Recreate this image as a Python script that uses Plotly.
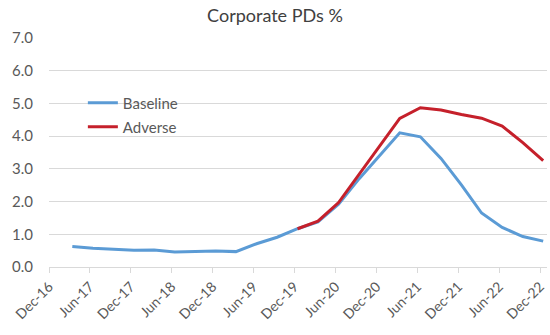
import plotly.graph_objects as go

# Quarterly observation dates (mid-month of each quarter end)
quarters = [
    "2017-03-15", "2017-06-15", "2017-09-15", "2017-12-15",
    "2018-03-15", "2018-06-15", "2018-09-15", "2018-12-15",
    "2019-03-15", "2019-06-15", "2019-09-15", "2019-12-15",
    "2020-03-15", "2020-06-15", "2020-09-15", "2020-12-15",
    "2021-03-15", "2021-06-15", "2021-09-15", "2021-12-15",
    "2022-03-15", "2022-06-15", "2022-09-15", "2022-12-15",
]

# Corporate probability of default, %
baseline = [
    0.63, 0.57, 0.54, 0.51, 0.52, 0.46, 0.47, 0.49,
    0.47, 0.71, 0.91, 1.17, 1.38, 1.92, 2.70, 3.42,
    4.10, 3.98, 3.32, 2.51, 1.65, 1.21, 0.93, 0.79,
]
adverse = [
    None, None, None, None, None, None, None, None,
    None, None, None, 1.17, 1.40, 1.97, 2.84, 3.72,
    4.54, 4.87, 4.80, 4.66, 4.55, 4.31, 3.80, 3.25,
]

title_text = "Corporate PDs %"
font_family = "Lato, 'Open Sans', sans-serif"
grey = "#595959"
grid = "#d9d9d9"

fig = go.Figure()
fig.add_trace(go.Scatter(
    x=quarters, y=baseline, name="Baseline", mode="lines",
    line=dict(color="#5B9BD5", width=3), legend="legend",
))
fig.add_trace(go.Scatter(
    x=quarters, y=adverse, name="Adverse", mode="lines",
    line=dict(color="#C5202B", width=3), legend="legend2",
))

legend_style = dict(
    bgcolor="rgba(0,0,0,0)", borderwidth=0,
    font=dict(family=font_family, size=15, color=grey),
    xanchor="left", yanchor="middle",
)

fig.update_layout(
    width=550, height=335,
    margin=dict(l=49, r=3, t=38, b=68),
    paper_bgcolor="white", plot_bgcolor="white",
    font=dict(family=font_family, color=grey),
    title=dict(
        text=title_text, x=0.5, xref="container", xanchor="center",
        y=1 - 16 / 335, yref="container", yanchor="middle",
        font=dict(family=font_family, size=18, color="#404040"),
    ),
    showlegend=True,
    legend=dict(x=0.068, y=0.716, **legend_style),
    legend2=dict(x=0.068, y=0.611, **legend_style),
    xaxis=dict(
        type="date",
        range=["2016-12-01", "2023-01-01"],
        tick0="2016-12-01", dtick="M6", tickformat="%b-%y",
        tickangle=-45,
        ticks="outside", ticklen=5, tickcolor=grid,
        showline=True, linecolor=grid, linewidth=1,
        showgrid=False, zeroline=False,
        tickfont=dict(family=font_family, size=14, color=grey),
    ),
    yaxis=dict(
        range=[0, 7], tick0=0, dtick=1, tickformat=".1f",
        showgrid=True, gridcolor=grid, gridwidth=1,
        zeroline=False, showline=False, ticks="",
        ticklabelstandoff=15,
        tickfont=dict(family=font_family, size=15, color=grey),
    ),
)

fig.write_html("out.html")
